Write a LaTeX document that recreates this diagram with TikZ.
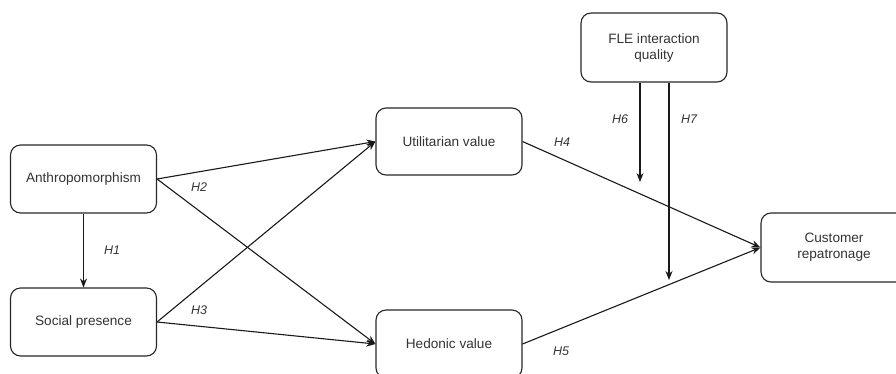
\documentclass[tikz,border=0pt]{standalone}
\usepackage{fontspec}
\setmainfont{Liberation Sans}
\usetikzlibrary{arrows.meta,calc}
\begin{document}
\begin{tikzpicture}[x=1pt,y=-1pt,
  box/.style={draw=black!85,line width=1.1pt,rounded corners=10pt,minimum width=146pt,align=center,font=\fontsize{13.6}{16}\selectfont,text=black!80,inner sep=0pt},
  arr/.style={draw=black!90,line width=1.1pt,-{Stealth[length=9pt,width=7pt]}},
  hl/.style={font=\itshape\fontsize{12.5}{14}\selectfont,text=black!80}]
\useasboundingbox (0,0) rectangle (896,373);
\clip (0,0) rectangle (896,373);
\node[box,minimum height=68pt] (A) at (83.5,179) {Anthropomorphism};
\node[box,minimum height=68pt] (S) at (83.5,322) {Social presence};
\node[box,minimum height=67pt] (U) at (449,141.5) {Utilitarian value};
\node[box,minimum height=68pt] (H) at (449,344) {Hedonic value};
\node[box,minimum height=69pt] (F) at (654,47.5) {FLE interaction\\quality};
\node[box,minimum height=69pt] (C) at (834,247.5) {Customer\\repatronage};
\coordinate (h6end) at (640,182);
\coordinate (h7end) at (669,280);
\draw[arr] (A) -- (S);
\draw[arr] (A.east) -- (U.west);
\draw[arr] (A.east) -- (H.west);
\draw[arr] (S.east) -- (U.west);
\draw[arr] (S.east) -- (H.west);
\draw[arr] (U.east) -- (C.west);
\draw[arr] (H.east) -- (C.west);
\draw[arr] (F.south -| h6end) -- (h6end);
\draw[arr] (F.south -| h7end) -- (h7end);
\node[hl] (l1) at (112,250) {H1};
\node[hl] (l2) at (199,187) {H2};
\node[hl] (l3) at (199,310) {H3};
\node[hl] (l4) at (562,142) {H4};
\node[hl] (l5) at (561,351) {H5};
\node[hl] (l6) at (620,119) {H6};
\node[hl] (l7) at (689,119) {H7};
\end{tikzpicture}
\end{document}
